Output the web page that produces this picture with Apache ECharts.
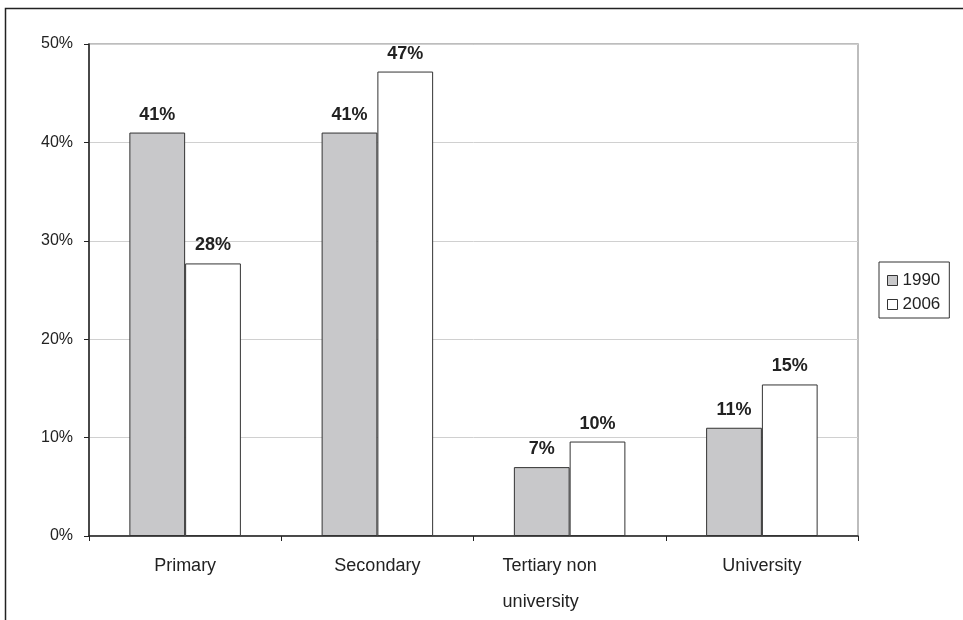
<!DOCTYPE html>
<html>
<head>
<meta charset="utf-8">
<script src="https://cdn.jsdelivr.net/npm/echarts@6/dist/echarts.min.js"></script>
<style>
  html, body { margin: 0; padding: 0; background: #fff; }
  #chart { width: 963px; height: 620px; }
</style>
</head>
<body>
<div id="chart"></div>
<script>
var categories = ['Primary', 'Secondary', 'Tertiary non\nuniversity', 'University'];
var values1990 = [41, 41, 7, 11];
var values2006 = [27.7, 47.2, 9.6, 15.4];
var yTicks = { min: 0, max: 50, interval: 10 };

var chart = echarts.init(document.getElementById('chart'));

var barLabel = {
    show: true,
    position: 'top',
    distance: 9,
    fontFamily: 'Liberation Sans',
    fontWeight: 'bold',
    fontSize: 18,
    color: '#222',
    formatter: function (p) { return Math.round(p.value) + '%'; }
};

var option = {
    animation: false,
    backgroundColor: '#fff',
    textStyle: { fontFamily: 'Liberation Sans' },
    graphic: [{
        type: 'rect',
        shape: { x: 5.5, y: 8.5, width: 1000, height: 700 },
        style: { fill: 'none', stroke: '#222', lineWidth: 1.5 },
        silent: true
    }],
    grid: {
        left: 89, top: 44, right: 105, bottom: 82,
        show: true,
        borderColor: '#a8a8a8',
        borderWidth: 1.5
    },
    legend: {
        orient: 'vertical',
        left: 879, top: 262,
        padding: [10, 9, 5, 8],
        itemGap: 7,
        itemWidth: 10,
        itemHeight: 10,
        borderColor: '#333',
        borderWidth: 1,
        textStyle: { fontSize: 17, color: '#222' },
        data: [
            { name: '1990', icon: 'rect', itemStyle: { color: '#c8c8ca', borderColor: '#333', borderWidth: 1 } },
            { name: '2006', icon: 'rect', itemStyle: { color: '#fff', borderColor: '#333', borderWidth: 1 } }
        ]
    },
    xAxis: {
        type: 'category',
        data: categories,
        axisLine: { lineStyle: { color: '#222', width: 1.5 } },
        axisTick: { show: true, length: 5, lineStyle: { color: '#222' } },
        axisLabel: {
            fontSize: 18, color: '#222', margin: 12, lineHeight: 36,
            formatter: function (v) {
                var parts = v.split('\n');
                if (parts.length < 2) return v;
                return '{a|' + parts[0] + '}\n{b|' + parts[1] + '}';
            },
            rich: {
                a: { fontSize: 18, color: '#222', lineHeight: 36, padding: [0, 40, 0, 0] },
                b: { fontSize: 18, color: '#222', lineHeight: 36, align: 'left' }
            }
        }
    },
    yAxis: {
        type: 'value',
        min: yTicks.min,
        max: yTicks.max,
        interval: yTicks.interval,
        axisLine: { show: true, lineStyle: { color: '#222', width: 1.5 } },
        axisTick: { show: true, length: 5, lineStyle: { color: '#222' } },
        axisLabel: { fontSize: 16, color: '#222', margin: 16, formatter: '{value}%' },
        splitLine: { lineStyle: { color: '#d0d0d0', width: 1 } }
    },
    series: [
        {
            name: '1990',
            type: 'bar',
            data: values1990,
            barGap: '0%',
            barCategoryGap: '42%',
            itemStyle: { color: '#c8c8ca', borderColor: '#333', borderWidth: 1 },
            label: barLabel
        },
        {
            name: '2006',
            type: 'bar',
            data: values2006,
            itemStyle: { color: '#fff', borderColor: '#333', borderWidth: 1 },
            label: barLabel
        }
    ]
};

chart.setOption(option);
</script>
</body>
</html>
